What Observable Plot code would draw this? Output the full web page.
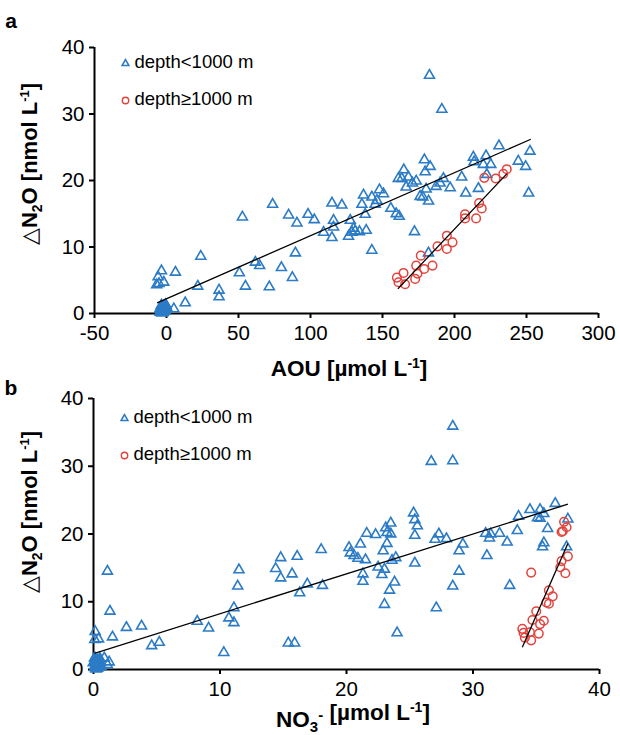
<!DOCTYPE html>
<html><head><meta charset="utf-8">
<script src="https://cdn.jsdelivr.net/npm/d3@7"></script>
<script src="https://cdn.jsdelivr.net/npm/@observablehq/plot@0.6"></script>
<style>
body{margin:0;background:#fff;font-family:"Liberation Sans",Arial,sans-serif}
#chart svg{display:block;overflow:visible}
</style>
</head><body><div id="chart"></div>
<script>
// ---------- data ----------
const legendLabels = ["depth<1000 m", "depth\u22651000 m"];

// panel a: AOU vs ΔN2O
const aouTicks = [-50, 0, 50, 100, 150, 200, 250, 300];
const n2oTicks = [0, 10, 20, 30, 40];
const aouShallow = [
 [-6.8,4.3],[-5.2,4.5],[-5.8,5.5],[-3.5,6.4],[-1.9,4.7],[6.2,6.2],[5.1,0.7],[13,1.6],[21.7,4.1],[23.8,8.6],
 [36.5,3.5],[36.5,2.5],[50.6,6.1],[52.7,14.5],[54.8,4.1],[61.7,7.7],[64.7,7.2],[71.4,4.0],[73.7,16.4],[79.8,6.9],
 [84.8,14.8],[87.4,5.4],[89.5,9.1],[90.6,13.6],[98.3,14.9],[102.6,14.1],
 [182.6,35.8],[191.2,30.7],[230.9,25.2],[252.4,24.4],[213.1,23.5],[221.9,23.7],[213.6,22.8],[220,22.4],[225.2,22.4],
 [244.3,22.9],[249.4,22.1],[222.4,20.9],[205,20.5],[216.6,18.8],[207.8,18.1],[251.5,18.1],[179.1,23.1],[183.1,22.1],
 [179.6,21.3],[164.8,21.6],[163.4,20.3],[161,20.3],[168,20.5],[173.4,19.9],[170.8,19.6],[166.4,19.0],[192.3,20.3],
 [190,19.6],[187.2,19.1],[180.3,18.7],[197,18.9],[176.1,17.6],[178,17.5],[182,16.9],[147.9,18.6],[150.7,18.0],
 [136.8,17.8],[142.6,17.5],[146.1,17.0],[144.9,16.4],[135.7,16.4],[121.8,16.3],[114.9,16.6],[155.8,15.8],[159.5,15.0],
 [161.6,14.6],[138,14.9],[116,14.0],[127.6,14.0],[116,13.0],[129.9,12.8],[109.1,12.2],[131,12.4],[128.8,12.2],
 [134,12.3],[138.7,12.5],[114.9,11.4],[126.4,11.6],[172.2,12.3],[142.6,9.5],[181.9,9.1]
];
// dense overlapping cluster at the origin (appears as a solid blob)
const aouNearZero = [
 [-4,0.3],[-3,0.6],[-2,1.0],[-1,0.4],[-3.5,1.2],[-2.5,0.2],[-1.5,0.8],[-0.5,1.3],[-4.5,0.7],[-2,0.5],[0,0.9],[-3,0.1],
 [-3.2,0.9],[-1.2,1.1],[-4.2,0.2]
];
const aouDeep = [
 [160,5.4],[161.1,4.7],[164.6,6.1],[165.7,4.4],[172.7,5.2],[173.4,7.2],[174.3,6.0],[176.6,8.7],[178.9,6.7],[184.7,7.2],
 [188.2,10.1],[194.7,11.7],[194.7,9.7],[198.6,10.7],[207.3,14.9],[207.3,14.3],[215,14.3],[217.1,16.6],[218.9,15.8],
 [220.7,20.4],[228.6,20.3],[233.9,21.0],[236.3,21.7]
];
// fits: [xStart, xEnd, slope, intercept]
const aouFits = [[-6.5, 253, 0.0948, 2.22], [160.7, 236.3, 0.2288, -33.07]];

// panel b: NO3- vs ΔN2O
const no3Ticks = [0, 10, 20, 30, 40];
const no3Shallow = [
 [0.13,5.6],[0.1,4.4],[0.4,4.5],[1.1,14.5],[1.3,8.6],[1.5,4.8],[0.85,1.7],[1.24,1.1],[1.1,0.7],[2.6,6.2],[3.8,6.4],
 [4.6,3.5],[5.2,4.0],[8.2,7.1],[9.1,6.1],[10.3,2.5],[10.7,7.6],[11.1,9.1],[11.1,6.9],[11.4,12.3],[11.5,14.7],
 [14.4,14.9],[14.8,16.5],[14.8,13.5],[15.7,14.1],[16.1,16.7],[16.3,11.3],[16.9,12.6],[15.4,3.9],[15.9,3.9],
 [28.4,35.9],[26.7,30.7],[28.4,30.8],[36.5,24.5],[34.5,23.6],[35.3,23.6],[35.6,23.0],[33.6,22.6],[35.1,22.4],
 [35.3,22.3],[37.5,22.2],[35.9,20.8],[33.5,20.5],[32.1,20.1],[31.4,20.0],[31.0,20.1],[31.3,19.4],[32.7,18.8],
 [35.6,18.7],[35.5,18.1],[37.4,18.1],[31.1,16.8],[32.9,12.4],[29.2,18.5],[28.9,17.5],[28.9,14.5],[28.4,12.3],
 [27.1,9.1],[27.3,20.0],[27.0,19.2],[27.9,19.3],[25.3,23.1],[25.4,22.1],[25.6,21.2],[25.4,19.8],[25.4,15.7],
 [23.5,21.6],[23.1,20.9],[23.2,20.2],[23.5,20.0],[23.2,18.6],[22.9,17.5],[23.9,16.5],[23.6,16.1],[21.6,20.1],
 [22.3,19.9],[21.1,18.5],[20.2,18.0],[20.3,17.2],[20.6,16.8],[20.9,16.4],[21.5,16.2],[22.5,15.1],[23.0,14.8],
 [22.8,14.0],[21.3,14.1],[21.3,13.0],[23.8,12.9],[23.4,11.7],[23.0,9.6],[24.0,5.4],[18.0,17.7],[18.1,12.4]
];
const no3NearZero = [
 [0.1,0.3],[0.2,0.8],[0.3,1.3],[0.1,1.7],[0.4,0.5],[0.5,1.0],[0.2,0.1],[0.6,0.4],[0.3,0.2],[0,1.0],[0.5,1.6]
];
const no3Deep = [
 [34.6,14.3],[37.2,21.8],[37.4,21.0],[37.0,20.3],[37.1,20.4],[37.5,16.7],[37.0,16.0],[36.9,15.1],[37.3,14.2],
 [36.0,11.7],[36.3,10.8],[35.8,9.9],[36.0,9.7],[35.0,8.6],[34.7,7.3],[35.6,7.2],[35.3,6.7],[33.9,6.0],[34.0,5.4],
 [34.5,5.5],[35.2,5.3],[34.1,4.7],[34.6,4.3]
];
const no3Fits = [[0.08, 37.5, 0.588, 2.35], [33.9, 37.5, 4.25, -140.78]];

// ---------- drawing ----------
const blue = "#2b7bc6", red = "#e2433c";

function panel(o) {
  const fitSegs = o.fits.map(([x1, x2, s, b]) => ({x1, x2, y1: s * x1 + b, y2: s * x2 + b}));
  const svg = Plot.plot({
    width: 620, height: o.height,
    marginTop: o.mt, marginBottom: o.mb, marginLeft: o.ml, marginRight: o.mr,
    style: {fontSize: "20px", fontFamily: "'Liberation Sans', Arial, sans-serif", color: "black", background: "white", overflow: "visible"},
    x: {domain: [o.xTicks[0], o.xTicks[o.xTicks.length - 1]]},
    y: {domain: [0, 40]},
    marks: [
      Plot.axisX({ticks: o.xTicks, tickSize: 5, tickPadding: 7, fontSize: 20.5, tickFormat: d => String(d), label: null, strokeWidth: 2}),
      Plot.axisY({ticks: n2oTicks, tickSize: 5, tickPadding: 5, fontSize: 20.5, tickFormat: d => String(d), label: null, strokeWidth: 2}),
      Plot.ruleX([o.xTicks[0]], {y1: 0, y2: 40, stroke: "black", strokeWidth: 2}),
      Plot.ruleY([0], {stroke: "black", strokeWidth: 2}),
      Plot.dot(o.nearZero, {x: d => d[0], y: d => d[1], symbol: "triangle", r: 3.9, stroke: blue, strokeWidth: 1.6, fill: blue}),
      Plot.dot(o.shallow, {x: d => d[0], y: d => d[1], symbol: "triangle", r: 3.7, stroke: blue, strokeWidth: 1.6, fill: "none"}),
      Plot.dot(o.deep, {x: d => d[0], y: d => d[1], r: 4.3, stroke: red, strokeWidth: 1.5, fill: "none"}),
      Plot.link(fitSegs, {x1: "x1", y1: "y1", x2: "x2", y2: "y2", stroke: "black", strokeWidth: 1.3}),
      Plot.dot([legendLabels[0]], {frameAnchor: "top-left", dx: 31, dy: o.ld[0], symbol: "triangle", r: 2.5, stroke: blue, strokeWidth: 1.6, fill: "none"}),
      Plot.dot([legendLabels[1]], {frameAnchor: "top-left", dx: 31, dy: o.ld[1], r: 3.2, stroke: red, strokeWidth: 1.4, fill: "none"}),
      Plot.text([legendLabels[0]], {text: d => d, frameAnchor: "top-left", dx: 40, dy: o.ld[0] - 1, textAnchor: "start", lineAnchor: "middle", fontSize: 18.5}),
      Plot.text([legendLabels[1]], {text: d => d, frameAnchor: "top-left", dx: 40, dy: o.ld[1] - 1, textAnchor: "start", lineAnchor: "middle", fontSize: 18.5})
    ]
  });
  const s = d3.select(svg);
  // panel letter
  s.append("text").attr("x", 11).attr("y", o.letterY).attr("font-size", 21).attr("font-weight", "bold").attr("fill", "black").text(o.letter);
  // y label
  const yl = s.append("text").attr("transform", `translate(37,${o.ylCy}) rotate(-90)`).attr("text-anchor", "middle")
    .attr("font-size", 22).attr("font-weight", "bold").attr("fill", "black");
  yl.append("tspan").attr("font-weight", "normal").text("\u25B3");
  yl.append("tspan").text("N");
  yl.append("tspan").attr("font-size", 14).attr("dy", 5).text("2");
  yl.append("tspan").attr("dy", -5).text("O [nmol L");
  yl.append("tspan").attr("font-size", 13).attr("dy", -8).text("-1");
  yl.append("tspan").attr("dy", 8).text("]");
  // x label
  const xl = s.append("text").attr("x", o.xlCx).attr("y", o.xlY).attr("text-anchor", "middle")
    .attr("font-size", 22.5).attr("font-weight", "bold").attr("fill", "black");
  o.xLabel(xl);
  xl.append("tspan").text(" [\u00B5mol L");
  xl.append("tspan").attr("font-size", 14).attr("dy", -8).text("-1");
  xl.append("tspan").attr("dy", 8).text("]");
  return svg;
}

const chart = document.getElementById("chart");
chart.append(panel({
  letter: "a", letterY: 28,
  shallow: aouShallow, nearZero: aouNearZero, deep: aouDeep, fits: aouFits, xTicks: aouTicks,
  height: 382, mt: 47, mb: 69, ml: 94, mr: 22, ld: [16, 53],
  ylCy: 164, xlCx: 349, xlY: 376,
  xLabel: t => t.append("tspan").text("AOU")
}));
chart.append(panel({
  letter: "b", letterY: 13,
  shallow: no3Shallow, nearZero: no3NearZero, deep: no3Deep, fits: no3Fits, xTicks: no3Ticks,
  height: 353, mt: 16, mb: 66, ml: 93, mr: 21, ld: [20, 57],
  ylCy: 130, xlCx: 353, xlY: 345,
  xLabel: t => {
    t.append("tspan").text("NO");
    t.append("tspan").attr("font-size", 15).attr("dy", 5).text("3");
    t.append("tspan").attr("font-size", 15).attr("dy", -12).text("-");
    t.append("tspan").attr("dy", 7).text("");
  }
}));
</script>
</body></html>
